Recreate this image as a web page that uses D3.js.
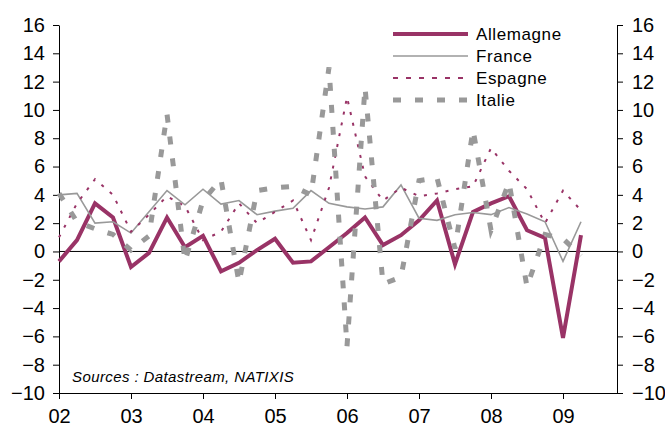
<!DOCTYPE html>
<html>
<head>
<meta charset="utf-8">
<script src="https://cdn.jsdelivr.net/npm/d3@7"></script>
<style>
  body { margin: 0; background: #fff; }
  svg { display: block; font-family: "Liberation Sans", Arial, sans-serif; }
  .axis path, .axis line { stroke: #000; stroke-width: 1; }
  .axis text { font-size: 20px; fill: #000; }
</style>
</head>
<body>
<script>
const width = 665, height = 431;

// quarterly series, 2002 Q1 -> 2009 Q2
const startYear = 2002;
const allemagne = [-0.7, 0.8, 3.4, 2.4, -1.1, -0.1, 2.4, 0.3, 1.1, -1.4, -0.8, 0.1, 0.9, -0.8, -0.7,
  0.3, 1.3, 2.4, 0.45, 1.15, 2.2, 3.6, -0.9, 2.8, 3.4, 3.9, 1.5, 0.95, -6.1, 1.15];
const france = [4.0, 4.1, 2.0, 2.1, 1.3, 2.8, 4.3, 3.3, 4.4, 3.35, 3.6, 2.6, 2.85, 3.05, 4.3,
  3.4, 3.15, 3.0, 3.15, 4.7, 2.35, 2.2, 2.6, 2.75, 2.6, 3.1, 2.65, 2.1, -0.7, 2.1];
const espagne = [1.0, 3.4, 5.1, 4.0, 1.4, 2.6, 3.9, 3.2, 0.8, 1.4, 3.4, 2.0, 2.8, 3.6, 0.8,
  4.5, 10.9, 5.3, 3.6, 4.5, 3.9, 4.1, 4.4, 4.6, 7.3, 5.7, 4.4, 2.0, 4.3, 2.9];
const italie = [4.1, 2.1, 1.6, 1.2, 0.1, 1.1, 9.7, -0.7, 3.6, 5.1, -2.2, 4.3, 4.5, 4.6, 4.0,
  13.0, -6.7, 11.6, -2.3, -1.8, 5.0, 5.2, 0.2, 8.6, 1.5, 4.9, -2.5, 1.2, 0.9, -0.3];

const yearTicks = [2002, 2003, 2004, 2005, 2006, 2007, 2008, 2009];
const yearLabels = ["02", "03", "04", "05", "06", "07", "08", "09"];
const yTicks = [-10, -8, -6, -4, -2, 0, 2, 4, 6, 8, 10, 12, 14, 16];

const series = [
  { name: "Allemagne", values: allemagne, color: "#993366", width: 4, dash: null },
  { name: "France", values: france, color: "#999999", width: 1.6, dash: null },
  { name: "Espagne", values: espagne, color: "#993366", width: 2, dash: "3,8" },
  { name: "Italie", values: italie, color: "#999999", width: 5, dash: "8,14" }
];

const svg = d3.select("body").append("svg")
  .attr("width", width)
  .attr("height", height);

const x = d3.scaleLinear().domain([2002, 2009.75]).range([59, 617]);
const y = d3.scaleLinear().domain([-10, 16]).range([393, 25]);

// axes
svg.append("g")
  .attr("class", "axis")
  .attr("transform", "translate(59,0)")
  .call(d3.axisLeft(y).tickValues(yTicks).tickSize(6).tickPadding(8).tickSizeOuter(0));

svg.append("g")
  .attr("class", "axis")
  .attr("transform", "translate(617,0)")
  .call(d3.axisRight(y).tickValues(yTicks).tickSize(6).tickPadding(9).tickSizeOuter(0));

const xAxis = svg.append("g")
  .attr("class", "axis")
  .attr("transform", "translate(0,393)")
  .call(d3.axisBottom(x).tickValues(yearTicks)
    .tickFormat((d, i) => yearLabels[i]).tickSize(6).tickSizeOuter(0));
xAxis.selectAll("text").attr("y", 16).attr("dy", "0.71em");

// zero line
svg.append("line")
  .attr("x1", x(2002)).attr("x2", x(2009.75))
  .attr("y1", y(0)).attr("y2", y(0))
  .attr("stroke", "#000").attr("stroke-width", 1);

const line = d3.line()
  .x((d, i) => x(startYear + i * 0.25))
  .y(d => y(d));

svg.selectAll(".series")
  .data(series)
  .enter()
    .append("path")
    .attr("class", "series")
    .attr("fill", "none")
    .attr("stroke", d => d.color)
    .attr("stroke-width", d => d.width)
    .attr("stroke-dasharray", d => d.dash)
    .attr("stroke-linejoin", "miter")
    .attr("d", d => line(d.values));

// legend
const legend = svg.selectAll(".legend")
  .data(series)
  .enter()
    .append("g")
    .attr("class", "legend")
    .attr("transform", (d, i) => "translate(393," + (34 + i * 22) + ")");

legend.append("line")
  .attr("x1", 0).attr("x2", 75)
  .attr("stroke", d => d.color)
  .attr("stroke-width", d => d.width)
  .attr("stroke-dasharray", d => d.name === "Espagne" ? "5,8" : d.dash);

legend.append("text")
  .attr("x", 83)
  .attr("dy", "0.36em")
  .style("font-size", "17px")
  .style("letter-spacing", "0.6px")
  .text(d => d.name);

svg.append("text")
  .attr("x", 72)
  .attr("y", 382)
  .style("font-size", "15px")
  .style("font-style", "italic")
  .style("letter-spacing", "0.4px")
  .text("Sources : Datastream, NATIXIS");
</script>
</body>
</html>
